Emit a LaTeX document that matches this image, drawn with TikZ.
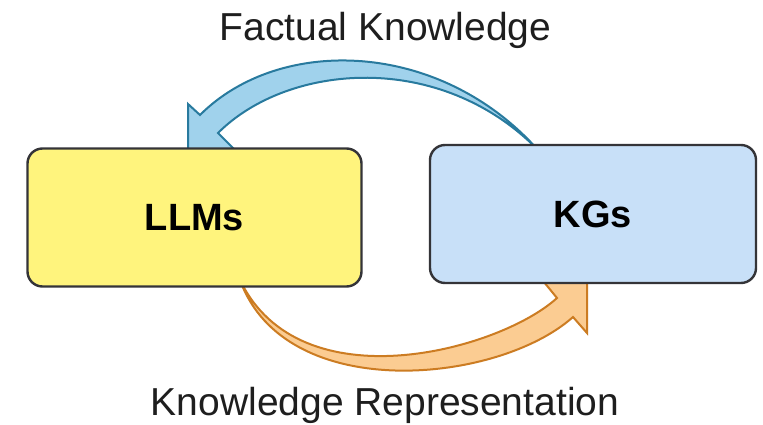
\documentclass[tikz,border=0pt]{standalone}
\usepackage{fontspec}
\setmainfont{Liberation Sans}
\definecolor{llmfill}{RGB}{255,244,125}
\definecolor{kgfill}{RGB}{200,224,248}
\definecolor{boxline}{RGB}{52,52,56}
\definecolor{blueline}{RGB}{40,122,158}
\definecolor{bluefill}{RGB}{160,210,236}
\definecolor{orangeline}{RGB}{204,124,34}
\definecolor{orangefill}{RGB}{251,204,146}
\definecolor{textgray}{RGB}{30,30,30}
\tikzset{
  modelbox/.style={draw=boxline, line width=2.4pt, rounded corners=15pt,
    minimum width=334pt, minimum height=138pt, inner sep=0pt,
    font=\fontsize{38}{44}\selectfont\bfseries, text=black},
  caption/.style={font=\fontsize{39}{46}\selectfont, text=textgray,
    anchor=base, inner sep=0pt},
  bluearrow/.style={draw=blueline, fill=bluefill, line width=2pt},
  orangearrow/.style={draw=orangeline, fill=orangefill, line width=2pt}
}
\begin{document}
\begin{tikzpicture}[x=1pt, y=-1pt]
\useasboundingbox[fill=white] (0,0) rectangle (763,425);

% captions
\node[caption] (top) at (385.5,41) {Factual Knowledge};
\node[caption] (bottom) at (385,415) {Knowledge Representation};

% tapered block arrow from KGs to LLMs
\coordinate (ft) at (538,150);
\draw[bluearrow] (ft) .. controls (440,40) and (280,35) .. (200,115)
  -- (188,104) -- (188,158) -- (243,158) -- (218,133)
  .. controls (288,63) and (440,50) .. (ft) -- cycle;

% tapered block arrow from LLMs to KGs
\coordinate (rt) at (240,280);
\draw[orangearrow] (rt) .. controls (285,405) and (498,384) .. (573,317)
  -- (587,333) -- (587,276) -- (539,276) -- (557,298)
  .. controls (500,350) and (300,405) .. (rt) -- cycle;

% the two boxes
\node[modelbox, fill=llmfill] (llm) at (194.5,217.5) {LLMs};
\node[modelbox, fill=kgfill, minimum width=326pt] (kg) at (593,214) {KGs};
\end{tikzpicture}
\end{document}
